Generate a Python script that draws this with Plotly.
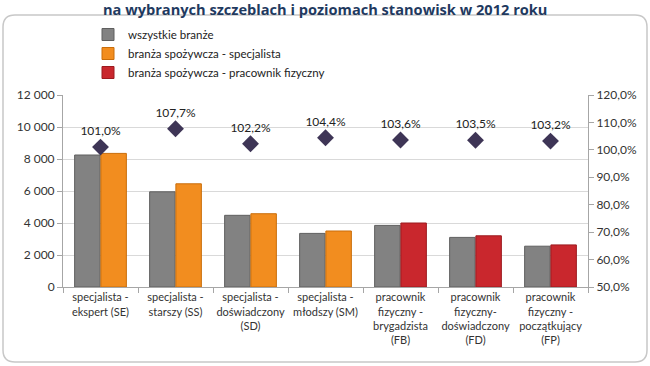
import plotly.graph_objects as go

categories = [
    "specjalista -<br>ekspert (SE)",
    "specjalista -<br>starszy (SS)",
    "specjalista -<br>doświadczony<br>(SD)",
    "specjalista -<br>młodszy (SM)",
    "pracownik<br>fizyczny -<br>brygadzista<br>(FB)",
    "pracownik<br>fizyczny-<br>doświadczony<br>(FD)",
    "pracownik<br>fizyczny -<br>początkujący<br>(FP)",
]
all_industries = [8250, 5950, 4480, 3350, 3850, 3100, 2550]
food_specialist = [8350, 6450, 4580, 3500, None, None, None]
food_manual = [None, None, None, None, 4000, 3200, 2630]
ratio_pct = [101.0, 107.7, 102.2, 104.4, 103.6, 103.5, 103.2]

series_names = ["wszystkie branże", "branża spożywcza - specjalista",
                "branża spożywcza - pracownik fizyczny"]
title_text = "na wybranych szczeblach i poziomach stanowisk w 2012 roku"

W, H = 650, 366
ML, MR, MT, MB = 63, 62, 95, 79
PW, PH = W - ML - MR, H - MT - MB


def px(x):
    return (x - ML) / PW


def py(y):
    return (H - MB - y) / PH


fig = go.Figure()
fig.add_trace(go.Bar(x=categories, y=all_industries, name=series_names[0],
                     offsetgroup="a",
                     marker=dict(color="#828282", line=dict(color="#5f5f5f", width=1))))
fig.add_trace(go.Bar(x=categories, y=food_specialist, name=series_names[1],
                     offsetgroup="b",
                     marker=dict(color="#f28d1f", line=dict(color="#c96d0a", width=1))))
fig.add_trace(go.Bar(x=categories, y=food_manual, name=series_names[2],
                     offsetgroup="b",
                     marker=dict(color="#c9272d", line=dict(color="#9c1a1f", width=1))))
fig.add_trace(go.Scatter(x=categories, y=ratio_pct, yaxis="y2", mode="markers+text",
                         marker=dict(symbol="diamond", size=13, color="#3e3556"),
                         text=ratio_pct, texttemplate="%{y:.1f}%",
                         textposition="top center",
                         textfont=dict(size=12, color="#222222"),
                         showlegend=False))

# rounded frame
x0, x1, y0, y1, r = 3, 647, 15, 362, 12
path = (f"M {px(x0 + r)},{py(y0)} L {px(x1 - r)},{py(y0)} "
        f"Q {px(x1)},{py(y0)} {px(x1)},{py(y0 + r)} "
        f"L {px(x1)},{py(y1 - r)} Q {px(x1)},{py(y1)} {px(x1 - r)},{py(y1)} "
        f"L {px(x0 + r)},{py(y1)} Q {px(x0)},{py(y1)} {px(x0)},{py(y1 - r)} "
        f"L {px(x0)},{py(y0 + r)} Q {px(x0)},{py(y0)} {px(x0 + r)},{py(y0)} Z")

fig.update_layout(
    width=W, height=H,
    margin=dict(l=ML, r=MR, t=MT, b=MB, autoexpand=False),
    paper_bgcolor="white", plot_bgcolor="white",
    separators=", ",
    font=dict(family="Lato, sans-serif", size=12, color="#333333"),
    barmode="group", bargap=0.3, bargroupgap=0.03,
    shapes=[dict(type="path", xref="paper", yref="paper", path=path,
                 line=dict(color="#c8c8c8", width=1.5), layer="below")],
    annotations=[dict(text=f"<b>{title_text}</b>", xref="paper", yref="paper",
                      x=px(325), y=py(9), xanchor="center", yanchor="middle",
                      showarrow=False,
                      font=dict(family="Open Sans, sans-serif", size=14.6, color="#1f3a5f"))],
    legend=dict(x=px(88), y=py(20), xanchor="left", yanchor="top",
                bgcolor="rgba(0,0,0,0)", font=dict(size=11.5, color="#222222"),
                itemwidth=30, tracegroupgap=0, traceorder="normal"),
    xaxis=dict(showline=True, linecolor="#a6a6a6", ticks="outside",
               tickson="boundaries", ticklen=5, tickcolor="#a6a6a6",
               tickangle=0, automargin=False,
               tickfont=dict(size=11, color="#333333")),
    yaxis=dict(range=[0, 12000], dtick=2000, tickformat=",d",
               showgrid=True, gridcolor="#d9d9d9", showline=True,
               linecolor="#a6a6a6", ticks="outside", ticklen=5,
               tickcolor="#a6a6a6", zeroline=False, automargin=False,
               tickfont=dict(size=12, color="#333333")),
    yaxis2=dict(range=[50, 120], dtick=10, tickformat=".1f", ticksuffix="%",
                overlaying="y", side="right", showgrid=False, showline=True,
                linecolor="#a6a6a6", ticks="outside", ticklen=5,
                tickcolor="#a6a6a6", zeroline=False, automargin=False,
                tickfont=dict(size=12, color="#333333")),
)

fig.write_html("out.html", config={"displayModeBar": False},
               post_script="document.body.style.margin='0px';document.body.style.overflow='hidden';")
